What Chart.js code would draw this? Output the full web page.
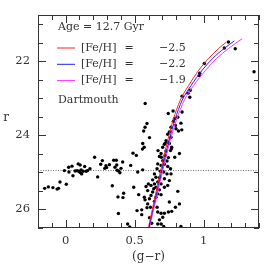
<!DOCTYPE html>
<html>
<head>
<meta charset="utf-8">
<script src="https://cdn.jsdelivr.net/npm/chart.js@4"></script>
<style>
  html, body { margin: 0; padding: 0; background: #fff; }
  canvas { display: block; }
</style>
</head>
<body>
<canvas id="cmd" width="266" height="265" style="width:266px;height:265px"></canvas>
<script>
// stars: (g-r) colour and r magnitude
const starGr = [
  1.179, 1.149, 1.228, 1.364, 1.004, 0.971, 0.967, 0.902, 0.886, 0.843, 0.899, 0.778, 0.843, 0.743, 0.812,
  0.788, 0.780, 0.835, 0.795, 0.763, 0.799, 0.841, 0.817, 0.751, 0.739, 0.763, 0.727, 0.739, 0.720,
  0.576, 0.589, 0.575, 0.565, 0.607, 0.558, 0.569, 0.556, 0.488, 0.512,
  0.703, 0.715, 0.751, 0.768, 0.759, 0.727, 0.691, 0.679, 0.720, 0.744, 0.824, 0.703, 0.734, 0.766, 0.790, 0.669, 0.693,
  0.667, 0.691, 0.715, 0.739, 0.759, 0.662, 0.686, 0.710, 0.734, 0.763, 0.643, 0.654, 0.679, 0.630, 0.715, 0.751,
  0.667, 0.643, 0.691, 0.618, 0.654, 0.638, 0.679, 0.715, 0.812, 0.630, 0.667, 0.691, 0.739, 0.618, 0.654, 0.607, 0.643,
  0.751, 0.824, 0.795, 0.768, 0.744, 0.715, 0.691, 0.667, 0.662, 0.703, 0.679, 0.589, 0.614, 0.607, 0.623, 0.667,
  0.691, 0.710, 0.594, 0.570,
  0.522, 0.558, 0.493, 0.529, 0.582, 0.575, 0.517, 0.551, 0.551, 0.835, 0.594, 0.599,
  -0.152, -0.125, -0.092, -0.062, -0.051, -0.041, 0.005, -0.009, 0.022, 0.024, 0.046, 0.053, 0.069, 0.083, 0.091,
  0.105, 0.094, 0.105, 0.112, 0.116, 0.127, 0.138, 0.149, 0.159, 0.176, 0.210, 0.232, 0.254, 0.266, 0.283,
  0.292, 0.297, 0.317, 0.338, 0.348, 0.357, 0.367, 0.370, 0.372, 0.379, 0.382, 0.384, 0.393, 0.401, 0.413,
  0.415, 0.420, 0.449, 0.464, 0.471
];
const starR = [
  21.48, 21.64, 21.66, 22.28, 22.06, 22.32, 22.38, 22.78, 22.86, 22.94, 22.97, 23.34, 23.37, 23.41, 23.51,
  23.55, 23.62, 23.67, 23.73, 23.78, 23.82, 23.85, 23.88, 23.91, 23.97, 24.05, 24.14, 24.18, 24.22,
  23.14, 23.68, 23.78, 23.88, 24.06, 24.22, 24.32, 24.37, 24.48, 24.54,
  24.32, 24.24, 24.22, 24.32, 24.41, 24.42, 24.49, 24.57, 24.54, 24.60, 24.49, 24.68, 24.69, 24.36, 24.59, 24.41, 24.59,
  24.77, 24.81, 24.78, 24.84, 24.90, 24.90, 24.97, 24.99, 25.04, 25.04, 25.04, 25.13, 25.14, 25.20, 25.17, 25.22,
  25.26, 25.31, 25.31, 25.35, 25.40, 25.44, 25.47, 25.40, 25.51, 25.53, 25.58, 25.60, 25.35, 25.62, 25.67, 25.71, 25.78,
  25.80, 25.85, 25.94, 26.05, 26.07, 26.10, 26.10, 26.07, 25.94, 26.21, 26.28, 25.95, 25.94, 26.22, 26.37, 26.39,
  26.39, 26.46, 25.85, 25.67,
  24.99, 24.93, 25.40, 25.60, 25.38, 25.74, 26.03, 26.01, 26.14, 26.46, 25.49, 25.31,
  25.43, 25.39, 25.41, 25.45, 25.43, 25.26, 25.32, 24.95, 24.86, 24.99, 24.83, 25.09, 24.96, 24.95, 24.77,
  24.80, 24.97, 25.00, 24.93, 25.04, 24.97, 24.84, 24.97, 24.95, 24.90, 24.59, 25.12, 24.78, 24.68, 24.89,
  24.82, 24.87, 24.79, 25.36, 24.67, 24.86, 24.67, 24.80, 24.94, 25.66, 26.11, 24.96, 25.01, 24.89, 24.72,
  25.68, 25.56, 26.39, 26.47, 24.81
];

// Dartmouth isochrones, 12.7 Gyr
const isoFeh25Gr = [0.599, 0.641, 0.688, 0.739, 0.778, 0.830, 0.891, 0.964, 1.036, 1.109, 1.164];
const isoFeh25R  = [26.5, 25.76, 24.95, 24.14, 23.59, 23.05, 22.65, 22.24, 21.92, 21.65, 21.48];
const isoFeh22Gr = [0.603, 0.646, 0.696, 0.749, 0.790, 0.844, 0.909, 0.989, 1.065, 1.149, 1.221];
const isoFeh22R  = [26.5, 25.76, 24.95, 24.14, 23.59, 23.05, 22.65, 22.24, 21.92, 21.65, 21.45];
const isoFeh19Gr = [0.606, 0.652, 0.703, 0.757, 0.802, 0.859, 0.927, 1.014, 1.094, 1.181, 1.278];
const isoFeh19R  = [26.5, 25.76, 24.95, 24.14, 23.59, 23.05, 22.65, 22.24, 21.92, 21.65, 21.39];

const fehLabels = ['\u22122.5', '\u22122.2', '\u22121.9'];
const isoColors = ['#ff2020', '#2020ff', '#ff30ff'];
const xTickLabels = [0, 0.5, 1];
const yTickLabels = [22, 24, 26];
const hbLevel = 24.95;

const serif = '"DejaVu Serif", "Liberation Serif", serif';
const textColor = '#333';

function toPoints(xs, ys) {
  return xs.map((x, i) => ({ x: x, y: ys[i] }));
}

function isoDataset(xs, ys, color) {
  return {
    data: toPoints(xs, ys),
    showLine: true,
    borderColor: color,
    borderWidth: 1,
    pointRadius: 0,
    cubicInterpolationMode: 'monotone',
    order: 0,
  };
}

const framePlugin = {
  id: 'frame',
  beforeDatasetsDraw(chart) {
    const { ctx, chartArea: a, scales } = chart;
    const y = scales.y.getPixelForValue(hbLevel);
    ctx.save();
    ctx.strokeStyle = '#444';
    ctx.lineWidth = 0.8;
    ctx.setLineDash([1, 1.5]);
    ctx.beginPath();
    ctx.moveTo(a.left, y);
    ctx.lineTo(a.right, y);
    ctx.stroke();
    ctx.restore();
  },
  afterDraw(chart) {
    const { ctx, chartArea: a, scales } = chart;
    ctx.save();
    ctx.strokeStyle = '#333';
    ctx.lineWidth = 1;
    ctx.strokeRect(a.left + 0.5, a.top + 0.5, a.right - a.left - 1, a.bottom - a.top - 1);

    // inward ticks on all four sides
    ctx.beginPath();
    for (let i = -2; i <= 14; i++) {
      const px = Math.round(scales.x.getPixelForValue(i / 10)) + 0.5;
      const len = i % 5 === 0 ? 8 : 5;
      ctx.moveTo(px, a.bottom);
      ctx.lineTo(px, a.bottom - len);
      ctx.moveTo(px, a.top);
      ctx.lineTo(px, a.top + len);
    }
    for (let j = 42; j <= 53; j++) {
      const py = Math.round(scales.y.getPixelForValue(j / 2)) + 0.5;
      const len = j % 4 === 0 ? 8 : 5;
      ctx.moveTo(a.left, py);
      ctx.lineTo(a.left + len, py);
      ctx.moveTo(a.right, py);
      ctx.lineTo(a.right - len, py);
    }
    ctx.stroke();

    // legend
    ctx.fillStyle = textColor;
    ctx.font = '11px ' + serif;
    ctx.textBaseline = 'middle';
    ctx.textAlign = 'left';
    ctx.fillText('Age = 12.7 Gyr', a.left + 20, a.top + 12);
    for (let k = 0; k < fehLabels.length; k++) {
      const ly = a.top + 33 + k * 16.3;
      ctx.strokeStyle = isoColors[k];
      ctx.lineWidth = 1;
      ctx.beginPath();
      ctx.moveTo(a.left + 19, ly);
      ctx.lineTo(a.left + 37, ly);
      ctx.stroke();
      ctx.textAlign = 'left';
      ctx.fillText('[Fe/H]', a.left + 43, ly);
      ctx.textAlign = 'center';
      ctx.fillText('=', a.left + 91, ly);
      ctx.textAlign = 'left';
      ctx.fillText(fehLabels[k], a.left + 121, ly);
    }
    ctx.textAlign = 'left';
    ctx.fillText('Dartmouth', a.left + 20, a.top + 85);

    // axis titles
    ctx.font = '12px ' + serif;
    ctx.textAlign = 'center';
    ctx.fillText('(g\u2212r)', (a.left + a.right) / 2, 257);
    ctx.fillText('r', 6, (a.top + a.bottom) / 2 - 4);
    ctx.restore();
  },
};

new Chart(document.getElementById('cmd'), {
  type: 'scatter',
  data: {
    datasets: [
      isoDataset(isoFeh25Gr, isoFeh25R, isoColors[0]),
      isoDataset(isoFeh22Gr, isoFeh22R, isoColors[1]),
      isoDataset(isoFeh19Gr, isoFeh19R, isoColors[2]),
      {
        data: toPoints(starGr, starR),
        pointRadius: 1.7,
        pointBackgroundColor: '#000',
        pointBorderWidth: 0,
        order: 1,
      },
    ],
  },
  options: {
    responsive: false,
    animation: false,
    layout: { padding: { top: 15, right: 7, left: 0, bottom: 0 } },
    plugins: { legend: { display: false }, tooltip: { enabled: false } },
    scales: {
      x: {
        type: 'linear',
        min: -0.2,
        max: 1.4,
        grid: { display: false, drawTicks: false },
        border: { display: false },
        afterBuildTicks: (s) => { s.ticks = xTickLabels.map((v) => ({ value: v })); },
        afterFit: (s) => { s.height = 37; },
        ticks: {
          padding: 6,
          color: textColor,
          font: { family: serif, size: 11.5 },
          maxRotation: 0,
          callback: (v) => String(v),
        },
      },
      y: {
        type: 'linear',
        reverse: true,
        min: 20.75,
        max: 26.5,
        grid: { display: false, drawTicks: false },
        border: { display: false },
        afterBuildTicks: (s) => { s.ticks = yTickLabels.map((v) => ({ value: v })); },
        afterFit: (s) => { s.width = 38; },
        ticks: { padding: 8, color: textColor, font: { family: serif, size: 11.5 } },
      },
    },
  },
  plugins: [framePlugin],
});
</script>
</body>
</html>
